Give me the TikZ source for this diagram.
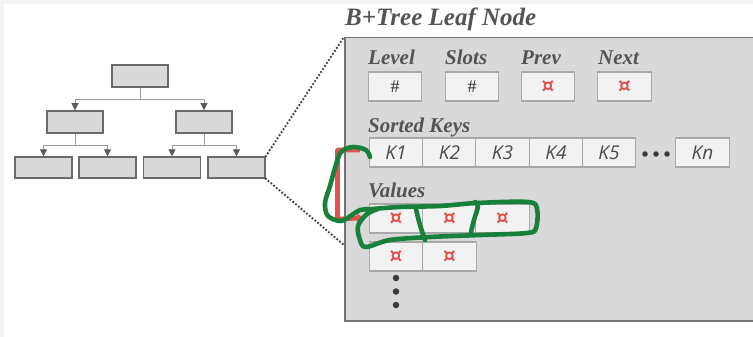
\documentclass[tikz,border=0pt]{standalone}
\usepackage{fontspec}
\setmainfont{Liberation Serif}
\newfontfamily\keyfont{Open Sans}
\newfontfamily\symfont{DejaVu Sans}
\usetikzlibrary{arrows.meta,calc}
\definecolor{bgstrip}{HTML}{F3F3F3}
\definecolor{panelfill}{HTML}{D9D9D9}
\definecolor{paneldraw}{HTML}{747474}
\definecolor{boxfill}{HTML}{F2F2F2}
\definecolor{boxdraw}{HTML}{A8A8A8}
\definecolor{treefill}{HTML}{D9D9D9}
\definecolor{treedraw}{HTML}{6A6A6A}
\definecolor{conncol}{HTML}{9C9C9C}
\definecolor{tipcol}{HTML}{5A5A5A}
\definecolor{labelcol}{HTML}{545454}
\definecolor{keycol}{HTML}{4A4A4A}
\definecolor{hashcol}{HTML}{333333}
\definecolor{ptrred}{HTML}{E0504B}
\definecolor{dotcol}{HTML}{444444}
\definecolor{darkdot}{HTML}{3A3A3A}
\definecolor{annred}{HTML}{E0554E}
\definecolor{anngreen}{HTML}{17803A}
\begin{document}
\begin{tikzpicture}[x=1pt,y=-1pt,
  tbox/.style={draw=treedraw,fill=treefill,line width=1.5pt,minimum width=56pt,minimum height=22pt,inner sep=0pt},
  cbox/.style={draw=boxdraw,fill=boxfill,line width=1.4pt,minimum width=53.5pt,minimum height=29pt,inner sep=0pt},
  conn/.style={draw=conncol,line width=0.9pt,-{Triangle[length=7pt,width=7pt,color=tipcol]}},
  lbl/.style={anchor=base west,text=labelcol,font=\fontsize{21}{21}\selectfont\bfseries\itshape,inner sep=0pt},
  keytxt/.style={font=\keyfont\fontsize{19}{19}\selectfont\itshape,text=keycol},
  ptr/.style={font=\symfont\bfseries\fontsize{20}{20}\selectfont,text=ptrred},
  hash/.style={font=\fontsize{18}{18}\selectfont,text=hashcol},
  dotline/.style={draw=dotcol,line width=2.6pt,line cap=round,dash pattern=on 0pt off 3.6pt},
  kdot/.style={circle,fill=darkdot,inner sep=0pt,minimum size=5.5pt},
  vdot/.style={circle,fill=darkdot,inner sep=0pt,minimum size=6.5pt},
  ann/.style={line width=4.6pt,line cap=round,line join=round}]
\useasboundingbox (0,0) rectangle (753,337);
\clip (0,0) rectangle (753,337);
\fill[white] (0,0) rectangle (753,337);
\fill[bgstrip] (0,0) rectangle (753,4);
\fill[bgstrip] (0,0) rectangle (4,337);

% tree
\node[tbox] (root) at (140,76) {};
\node[tbox] (la) at (75,122) {};
\node[tbox] (lb) at (204,122) {};
\node[tbox,minimum width=57pt,minimum height=21pt] (f1) at (43.5,167.5) {};
\node[tbox,minimum width=57pt,minimum height=21pt] (f2) at (107.5,167.5) {};
\node[tbox,minimum width=57pt,minimum height=21pt] (f3) at (172,167.5) {};
\node[tbox,minimum width=57pt,minimum height=21pt] (f4) at (236.5,167.5) {};
\draw[conn] (root.south) -- ++(0,12) -| (la.north);
\draw[conn] (root.south) -- ++(0,12) -| (lb.north);
\draw[conn] (la.south) -- ++(0,12) -| (f1.north);
\draw[conn] (la.south) -- ++(0,12) -| (f2.north);
\draw[conn] (lb.south) -- ++(0,12) -| (f3.north);
\draw[conn] (lb.south) -- ++(0,12) -| (f4.north);

% panel
\node[draw=paneldraw,fill=panelfill,line width=1.5pt,anchor=north west,minimum width=440pt,minimum height=283pt,inner sep=0pt] (panel) at (344,37) {};
\node[anchor=base west,text=labelcol,font=\fontsize{25}{25}\selectfont\bfseries\itshape,inner sep=0pt] (title) at (345,26) {B+Tree Leaf Node};

\coordinate (pin) at (344,245);
\draw[dotline] (f4.north east) -- (panel.north west);
\draw[dotline] (f4.south east) -- (pin);

% header
\node[lbl] (llevel) at (368,65) {Level};
\node[lbl] (lslots) at (445,65) {Slots};
\node[lbl] (lprev) at (521,65) {Prev};
\node[lbl] (lnext) at (598,65) {Next};
\node[cbox,hash] (blevel) at (395,86.5) {\#};
\node[cbox,hash] (bslots) at (472,86.5) {\#};
\node[cbox,ptr] (bprev) at (548,86.5) {¤};
\node[cbox,ptr] (bnext) at (624.5,86.5) {¤};

% keys
\node[lbl] (lkeys) at (368,132) {Sorted Keys};
\node[cbox,keytxt] (k1) at (396,152.5) {K1};
\node[cbox,keytxt] (k2) at (449.5,152.5) {K2};
\node[cbox,keytxt] (k3) at (502.5,152.5) {K3};
\node[cbox,keytxt] (k4) at (556,152.5) {K4};
\node[cbox,keytxt] (k5) at (609,152.5) {K5};
\node[kdot] (kd1) at (645,154) {};
\node[kdot] (kd2) at (656,154) {};
\node[kdot] (kd3) at (667,154) {};
\node[cbox,keytxt] (kn) at (702.5,152.5) {Kn};

% values
\node[lbl] (lvals) at (368,197) {Values};
\node[cbox,ptr] (v1) at (396,218.5) {¤};
\node[cbox,ptr] (v2) at (449.5,218.5) {¤};
\node[cbox,ptr] (v3) at (502.5,218.5) {¤};
\node[cbox,ptr] (v4) at (396,256.5) {¤};
\node[cbox,ptr] (v5) at (449.5,256.5) {¤};
\node[vdot] (vd1) at (396,278) {};
\node[vdot] (vd2) at (396,291.5) {};
\node[vdot] (vd3) at (396,305) {};

% hand-drawn annotations
\draw[ann,annred,line cap=butt,-{Triangle[length=7pt,width=10pt]}] (360,150) -- (337.5,150) -- (337.5,219) -- (364,218);
\draw[ann,anngreen] plot[smooth,tension=0.55] coordinates {(370,157) (366,150) (353,147) (341,152) (335,168) (330,186) (325,203) (328,216) (341,221) (352,215) (360,210) (372,209) (400,207) (440,206) (477,203) (528,202) (537,209) (536,228) (527,233) (480,235) (430,237) (390,240) (366,247) (360,240) (358,226) (367,214) (378,209)};
\draw[ann,anngreen] plot[smooth,tension=0.55] coordinates {(416,209) (420,225) (425,240)};
\draw[ann,anngreen] plot[smooth,tension=0.55] coordinates {(475,202) (478,206) (474,220) (471,232)};
\end{tikzpicture}
\end{document}
